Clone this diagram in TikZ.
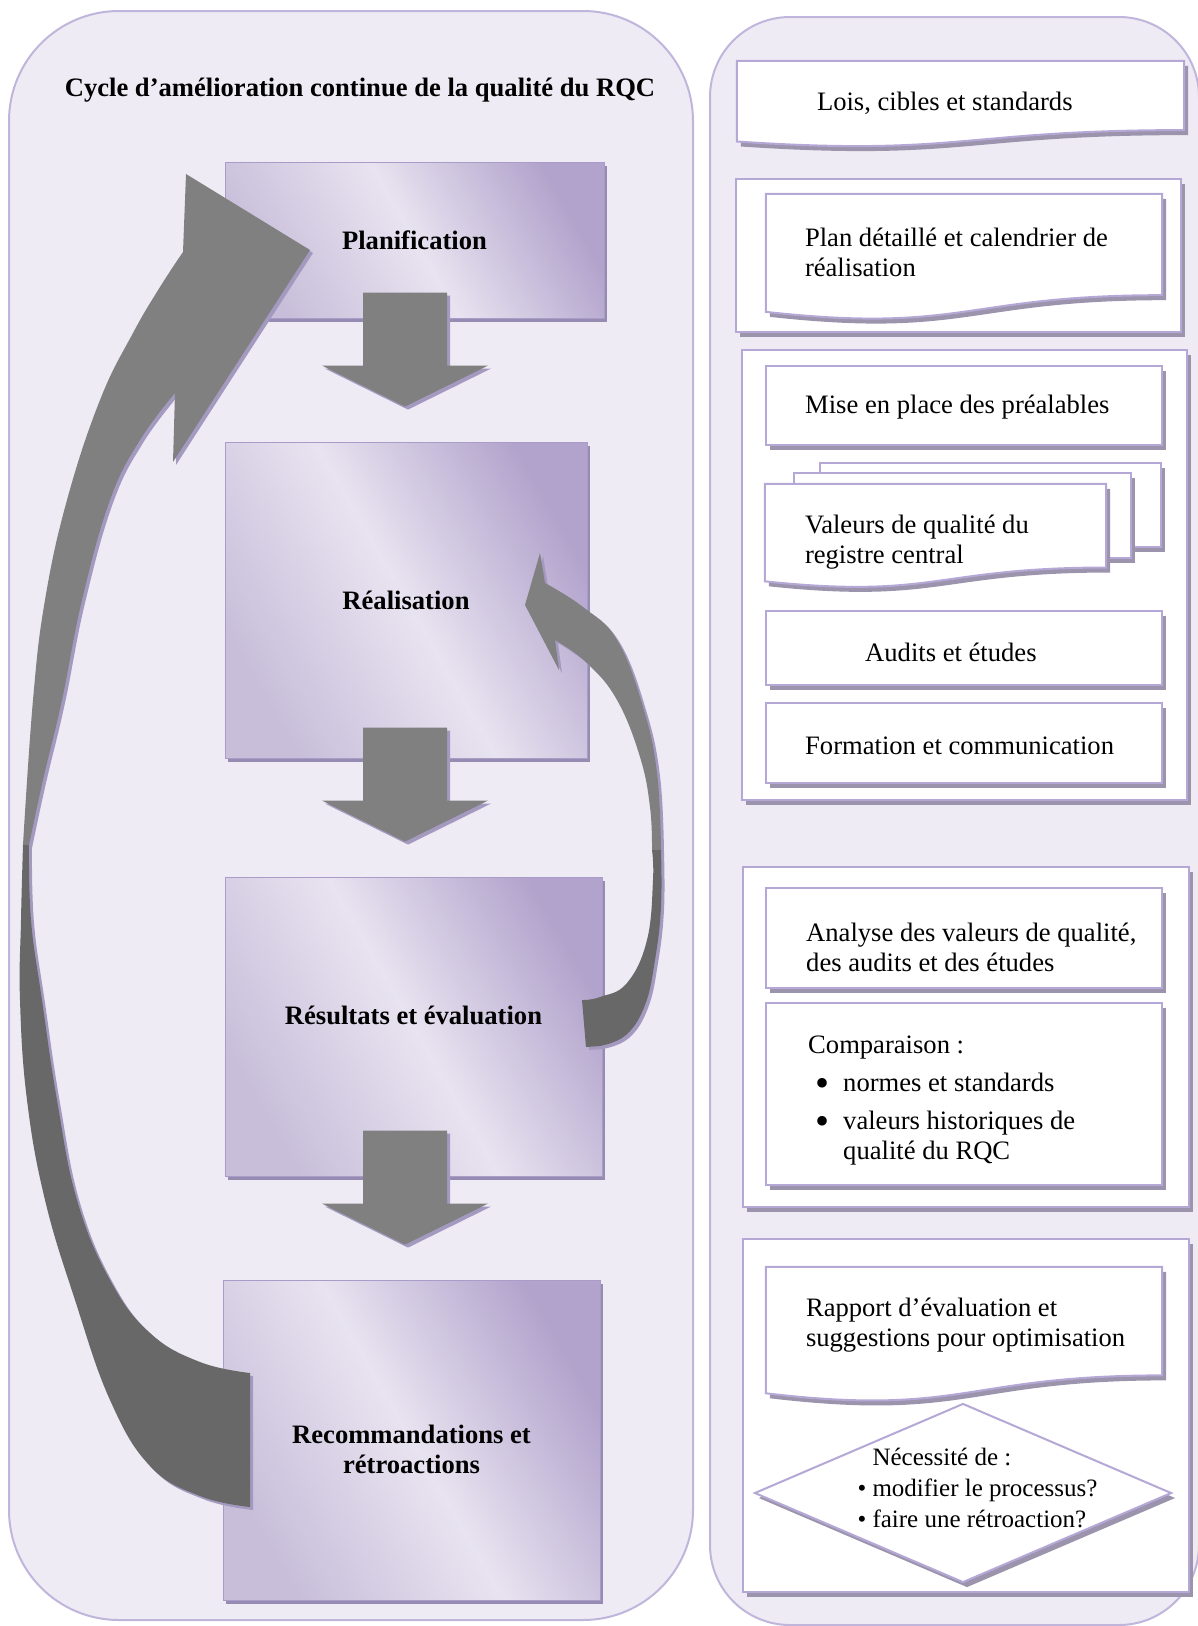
\documentclass[tikz,border=0pt]{standalone}
\usepackage{fontspec}
\setmainfont{Liberation Serif}
\usetikzlibrary{positioning,calc,shadows,shapes.geometric}

\definecolor{panelbg}{RGB}{238,235,244}
\definecolor{panelline}{RGB}{192,182,220}
\definecolor{boxline}{RGB}{181,168,214}
\definecolor{boxshadow}{RGB}{155,148,172}
\definecolor{phlight}{RGB}{232,227,240}
\definecolor{phmid}{RGB}{200,190,218}
\definecolor{phdark}{RGB}{178,163,204}
\definecolor{phline}{RGB}{170,156,200}
\definecolor{phshadow}{RGB}{150,140,178}
\definecolor{arrgray}{RGB}{128,128,128}
\definecolor{arrdark}{RGB}{104,104,104}
\definecolor{arrshadow}{RGB}{164,154,192}

\newcommand{\bigsz}{\fontsize{26.6pt}{30pt}\selectfont}
\newcommand{\bigdot}{\raisebox{-5pt}{\fontsize{40pt}{30pt}\selectfont\textbullet}}

% document shape drawn round an empty node
\newcommand{\docframe}[1]{%
  \draw[docedge] (#1.north west) -- (#1.north east)
    -- ($(#1.north east)!0.802!(#1.south east)$)
    .. controls ($(#1.north)!0.802!(#1.south)$) and ($(#1.north)!1.107!(#1.south)$)
    .. ($(#1.north west)!0.934!(#1.south west)$) -- cycle;}

% block arrow pointing down onto a phase box
\newcommand{\downblock}[1]{%
  \fill[blockarrow] ($(#1.north -| midline)+(-42,-149)$) -- ($(#1.north -| midline)+(42,-149)$)
    -- ($(#1.north -| midline)+(42,-76)$) -- ($(#1.north -| midline)+(83,-76)$)
    -- ($(#1.north -| midline)+(0,-35)$) -- ($(#1.north -| midline)+(-83,-76)$)
    -- ($(#1.north -| midline)+(-42,-76)$) -- cycle;}

\begin{document}
\begin{tikzpicture}[x=1pt, y=-1pt,
    panel/.style={draw=panelline, line width=2pt, fill=panelbg},
    phase/.style={draw=phline, line width=0.8pt, left color=phmid, right color=phdark,
                  middle color=phlight, shading angle=120, font=\bigsz\bfseries, align=center,
                  drop shadow={shadow xshift=3pt, shadow yshift=-4pt, fill=phshadow, opacity=1}},
    phasetxt/.style={font=\bigsz\bfseries, align=center},
    wbox/.style={draw=boxline, line width=2pt, fill=white, inner sep=0pt,
                 drop shadow={shadow xshift=4pt, shadow yshift=-5pt, fill=boxshadow, opacity=1}},
    docedge/.style={draw=boxline, line width=2pt, fill=white,
                    drop shadow={shadow xshift=4pt, shadow yshift=-5pt, fill=boxshadow, opacity=1}},
    docnode/.style={inner sep=0pt},
    txt/.style={font=\bigsz, align=left, inner sep=0pt},
    blockarrow/.style={fill=arrgray,
                       drop shadow={shadow xshift=3pt, shadow yshift=-3pt, fill=arrshadow, opacity=1}},
    blockback/.style={fill=arrdark,
                      drop shadow={shadow xshift=3pt, shadow yshift=-3pt, fill=arrshadow, opacity=1}}
  ]
  \useasboundingbox (0,0) rectangle (1198,1626);
  \fill[white] (0,0) rectangle (1198,1626);

  % panels
  \node[panel, rounded corners=110pt, minimum width=684pt, minimum height=1609pt] (cyclepanel) at (351,815.5) {};
  \node[panel, rounded corners=80pt, minimum width=489pt, minimum height=1608pt] (steppanel) at (954.5,821) {};

  \node[font=\bigsz\bfseries] (title) at (360,90) {Cycle d’amélioration continue de la qualité du RQC};

  % cycle phases
  \node[phase, minimum width=379pt, minimum height=156pt] (plan) at (414.5,240) {Planification};
  \node[phase, minimum width=362pt, minimum height=316pt] (real) at (406,600) {Réalisation};
  \node[phase, minimum width=377pt, minimum height=299pt] (res)  at (413.5,1026.5) {};
  \node[phasetxt, yshift=11pt] (restxt) at (res.center) {Résultats et évaluation};
  \node[phase, minimum width=377pt, minimum height=320pt] (rec)  at (411.5,1440) {};
  \node[phasetxt, yshift=-9pt] (rectxt) at (rec.center) {Recommandations et\\rétroactions};

  \coordinate (midline) at (405,0);
  \downblock{real}
  \downblock{res}
  \downblock{rec}

  % big return arrow rec -> plan
  \fill[blockarrow] (186,174) -- (310,250) -- (173,462)
    -- plot[smooth, tension=0.7] coordinates {(175,393) (140,440) (110,500) (82,600) (62,700) (43,780) (29,845)}
    -- plot[smooth, tension=0.7] coordinates {(23,845) (33,700) (45,600) (67,500) (100,400) (133,333) (160,287) (183,252)}
    -- cycle;
  \fill[blockback] plot[smooth, tension=0.7] coordinates {(29,845) (31,920) (42,1000) (57,1100) (77,1200) (110,1280) (150,1333) (200,1362) (250,1373)}
    -- plot[smooth, tension=0.7] coordinates {(250,1507) (200,1496) (150,1466) (110,1400) (75,1300) (45,1200) (27,1100) (20,1000) (21,920) (23,845)}
    -- cycle;

  % small return arrow res -> real
  \fill[blockarrow] (540,553) -- (525,605) -- (559,670)
    -- plot[smooth, tension=0.7] coordinates {(555,640) (587,663) (617,700) (640,757) (650,807) (652,850)}
    -- plot[smooth, tension=0.7] coordinates {(661,850) (657,773) (643,707) (617,640) (583,607) (545,583)}
    -- cycle;
  \fill[blockback] plot[smooth, tension=0.7] coordinates {(652,850) (653,880) (647,940) (627,983) (600,997) (582,1000)}
    -- (586,1047)
    -- plot[smooth, tension=0.7] coordinates {(600,1046) (626,1035) (645,1005) (655,960) (661,907) (661,850)}
    -- cycle;

  % right column
  \node[docnode, minimum width=447pt, minimum height=86pt] (lois) at (960.5,104) {};
  \docframe{lois}
  \node[txt, right=80pt of lois.west, yshift=1pt] (loistxt) {Lois, cibles et standards};

  \node[wbox, minimum width=445pt, minimum height=153pt] (plangrp) at (958.5,255.5) {};
  \node[docnode, minimum width=396pt, minimum height=126pt] (plandoc) at (964,257) {};
  \docframe{plandoc}
  \node[txt, right=39pt of plandoc.west, yshift=5pt] (plantxt) {Plan détaillé et calendrier de\\réalisation};

  \node[wbox, minimum width=445pt, minimum height=450pt] (misegrp) at (964.5,575) {};
  \node[wbox, minimum width=396pt, minimum height=79pt] (mise) at (964,405.5) {};
  \node[txt, right=40pt of mise.west, yshift=-2pt] (misetxt) {Mise en place des préalables};
  \node[wbox, minimum width=341pt, minimum height=84pt] (val1) at (990.5,505) {};
  \node[wbox, minimum width=337pt, minimum height=85pt] (val2) at (962.5,515.5) {};
  \node[docnode, minimum width=341pt, minimum height=104pt] (val3) at (935.5,536) {};
  \docframe{val3}
  \node[txt, right=40pt of val3.west, yshift=-6pt] (valtxt) {Valeurs de qualité du\\registre central};
  \node[wbox, minimum width=396pt, minimum height=74pt] (audits) at (964,648) {};
  \node[txt, right=100pt of audits.west, yshift=-4pt] (auditstxt) {Audits et études};
  \node[wbox, minimum width=396pt, minimum height=80pt] (form) at (964,743) {};
  \node[txt, right=40pt of form.west, yshift=-3pt] (formtxt) {Formation et communication};

  \node[wbox, minimum width=446pt, minimum height=340pt] (anagrp) at (966,1037) {};
  \node[wbox, minimum width=396pt, minimum height=100pt] (analyse) at (964,938) {};
  \node[txt, right=41pt of analyse.west, yshift=-9pt] (analysetxt) {Analyse des valeurs de qualité,\\des audits et des études};
  \node[wbox, minimum width=396pt, minimum height=182pt] (comp) at (964,1094) {};
  \node[txt, right=43pt of comp.west, yshift=-7pt] (comptxt) {Comparaison :\\[8pt]
    \hspace*{7pt}\makebox[28pt][l]{\bigdot}normes et standards\\[8pt]
    \hspace*{7pt}\makebox[28pt][l]{\bigdot}valeurs historiques de\\
    \hspace*{35pt}qualité du RQC};

  \node[wbox, minimum width=446pt, minimum height=353pt] (rapgrp) at (966,1415.5) {};
  \node[docnode, minimum width=396pt, minimum height=135pt] (rapdoc) at (964,1334.5) {};
  \docframe{rapdoc}
  \node[txt, right=40pt of rapdoc.west, yshift=9pt] (raptxt) {Rapport d’évaluation et\\suggestions pour optimisation};
  \node[wbox, diamond, minimum width=417pt, minimum height=179pt] (decision) at (963,1493) {};
  \node[font=\fontsize{25pt}{31pt}\selectfont, align=left, inner sep=0pt, xshift=22pt, yshift=5pt] (dectxt) at (decision.center)
    {Nécessité de :\\\llap{\textbullet\ }modifier le processus?\\\llap{\textbullet\ }faire une rétroaction?};
\end{tikzpicture}
\end{document}
